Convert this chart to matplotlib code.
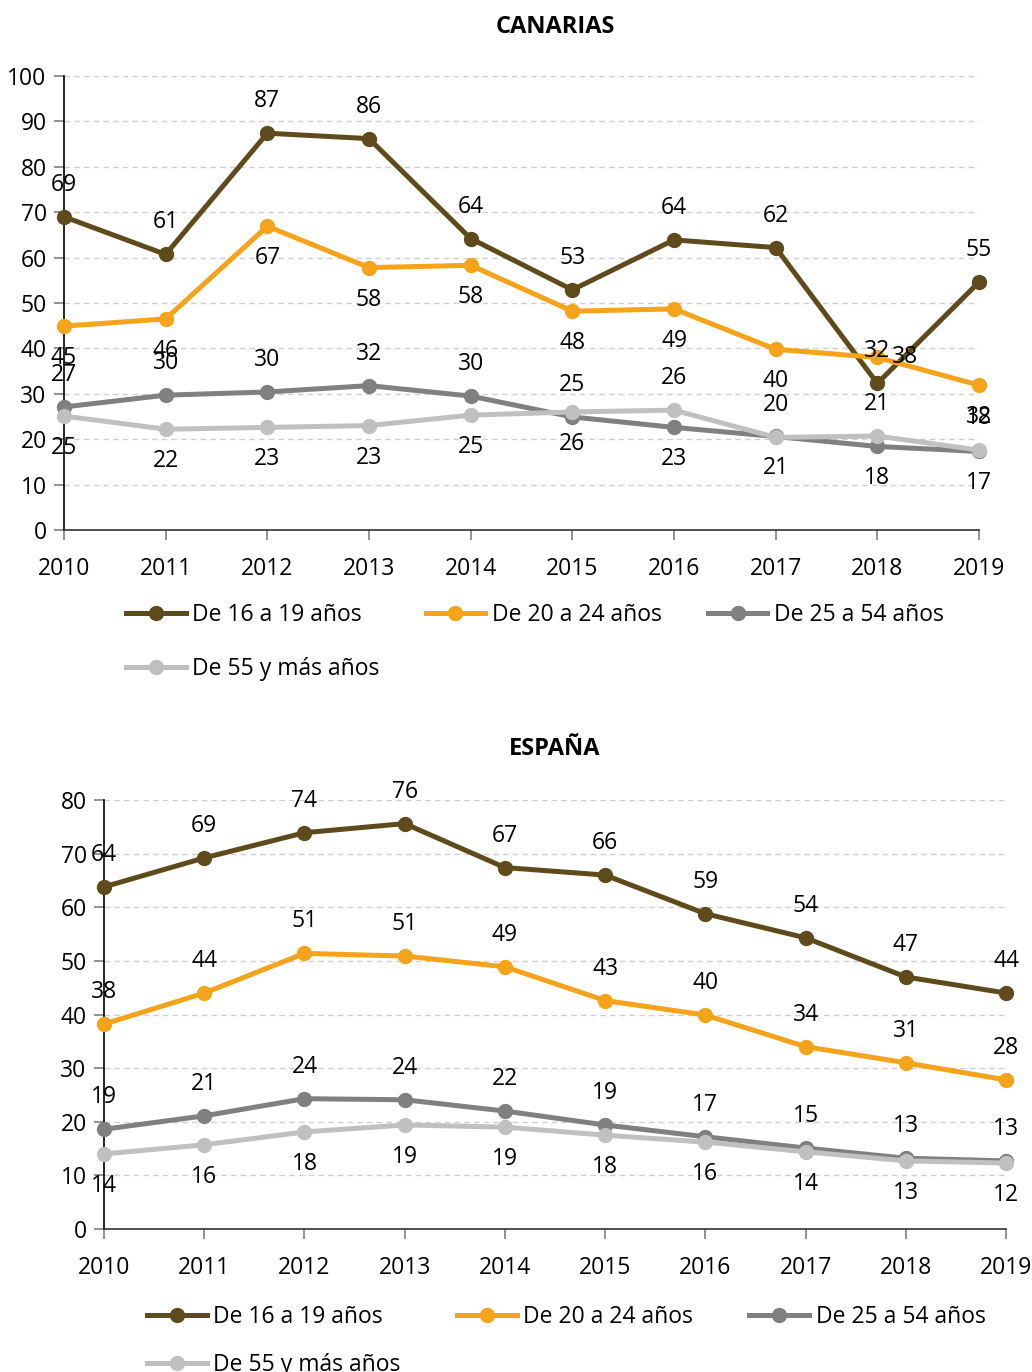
import matplotlib
matplotlib.use('Agg')
import matplotlib.pyplot as plt

years = list(range(2010, 2020))
series_names = ['De 16 a 19 años', 'De 20 a 24 años', 'De 25 a 54 años', 'De 55 y más años']
colors = ['#5e4a1a', '#f5a31b', '#808080', '#c0c0c0']

# Canarias
can_16_19 = [69.0, 60.7, 87.4, 86.2, 64.2, 52.9, 63.9, 62.2, 32.3, 54.6]
can_20_24 = [44.9, 46.5, 66.9, 57.8, 58.3, 48.2, 48.7, 39.8, 38.0, 31.9]
can_25_54 = [27.1, 29.7, 30.4, 31.8, 29.5, 24.9, 22.6, 20.6, 18.4, 17.3]
can_55_mas = [25.1, 22.2, 22.6, 23.0, 25.3, 26.0, 26.4, 20.4, 20.7, 17.6]

# España
esp_16_19 = [63.8, 69.2, 73.9, 75.6, 67.4, 66.0, 58.8, 54.3, 47.0, 44.0]
esp_20_24 = [38.2, 44.0, 51.4, 50.9, 48.9, 42.6, 39.9, 34.0, 31.0, 27.8]
esp_25_54 = [18.6, 21.1, 24.3, 24.1, 22.0, 19.4, 17.2, 15.1, 13.2, 12.7]
esp_55_mas = [14.0, 15.7, 18.1, 19.4, 19.0, 17.5, 16.2, 14.4, 12.7, 12.3]

# where each data label goes: a = above, b = below, r = right
can_label_pos = [['a'] * 10,
                 ['b'] * 8 + ['r', 'b'],
                 ['a'] * 6 + ['b'] * 4,
                 ['b'] * 6 + ['a'] * 4]
esp_label_pos = [['a'] * 10, ['a'] * 10, ['a'] * 10, ['b'] * 10]

plt.rcParams['font.family'] = ['Open Sans', 'DejaVu Sans']
FS = 16.5
OFF = 23

fig = plt.figure(figsize=(10.32, 13.72), dpi=100)


def draw_panel(rect, data, label_pos, ymax, title, title_y, leg_anchor, colspacing, rowspacing):
    ax = fig.add_axes(rect)
    lines = []
    for vals, col, name, pos in zip(data, colors, series_names, label_pos):
        ln, = ax.plot(years, vals, color=col, lw=3.6, marker='o', ms=10,
                      label=name, clip_on=False, zorder=3)
        lines.append(ln)
        for x, v, p in zip(years, vals, pos):
            if p == 'a':
                xy_off = (0, OFF)
            elif p == 'b':
                xy_off = (0, -OFF)
            else:
                xy_off = (20, 0)
            ax.annotate(f'{v:.0f}', (x, v), xytext=xy_off, textcoords='offset points',
                        ha='center', va='center', fontsize=FS, zorder=5)
    ax.set_xlim(2010, 2019)
    ax.set_ylim(0, ymax)
    ax.set_xticks(years)
    ax.set_yticks(range(0, ymax + 1, 10))
    ax.tick_params(axis='both', labelsize=FS, length=7.5, width=1.2, color='#808080')
    ax.tick_params(axis='x', pad=12)
    ax.tick_params(axis='y', pad=5)
    for y in range(10, ymax + 1, 10):
        ax.axhline(y, color='#cfcfcf', lw=1, ls=(0, (4, 3)), zorder=1)
    for s in ['top', 'right']:
        ax.spines[s].set_visible(False)
    ax.spines['left'].set_color('black')
    ax.spines['bottom'].set_color('#333333')
    ax.spines['left'].set_linewidth(1.2)
    ax.spines['bottom'].set_linewidth(1.2)
    order = [0, 3, 1, 2]
    ax.legend([lines[i] for i in order], [series_names[i] for i in order],
              loc='upper left', bbox_to_anchor=leg_anchor, bbox_transform=fig.transFigure,
              ncol=3, frameon=False, fontsize=FS, handlelength=2.6, handletextpad=0.3,
              columnspacing=colspacing, labelspacing=rowspacing, borderpad=0, borderaxespad=0)
    fig.text(555 / 1032, title_y, title, ha='center', va='center',
             fontsize=FS + 0.5, fontweight='bold')
    return ax


draw_panel([64 / 1032, 1 - 530 / 1372, (979 - 64) / 1032, (530 - 76) / 1372],
           [can_16_19, can_20_24, can_25_54, can_55_mas], can_label_pos, 100,
           'CANARIAS', 1 - 27 / 1372, (126 / 1032, 1 - 603 / 1372), 2.0, 1.33)

draw_panel([104 / 1032, 1 - 1229 / 1372, (1006 - 104) / 1032, (1229 - 800) / 1372],
           [esp_16_19, esp_20_24, esp_25_54, esp_55_mas], esp_label_pos, 80,
           'ESPAÑA', 1 - 749 / 1372, (147 / 1032, 1 - 1305 / 1372), 2.45, 1.03)

fig.savefig('out.png', dpi=100)
